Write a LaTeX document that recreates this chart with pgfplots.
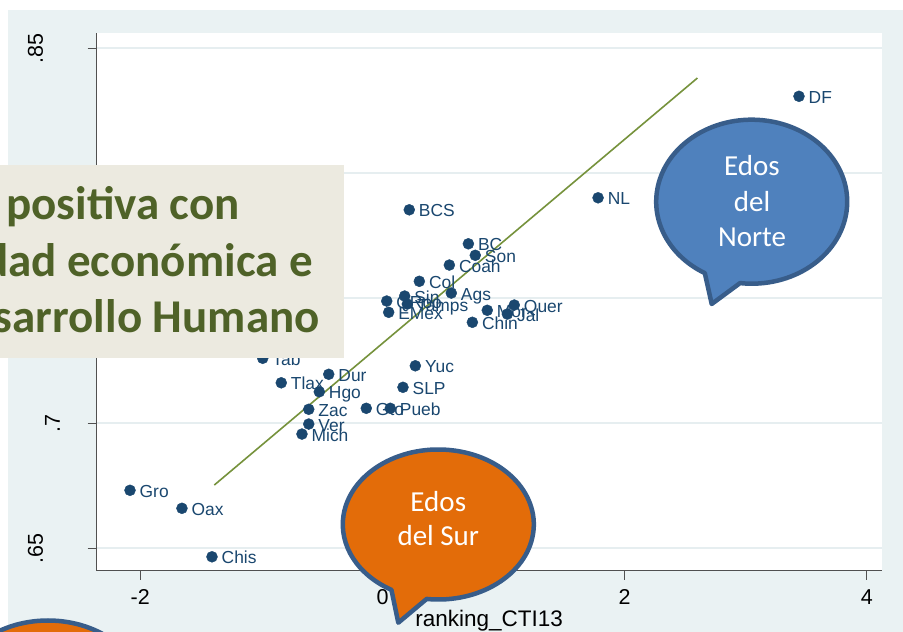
\documentclass[border=0pt]{standalone}
\usepackage{fontspec}
\setmainfont{Liberation Sans}
\newfontfamily\calibri{Carlito}
\usepackage{pgfplots}
\pgfplotsset{compat=1.18}
\definecolor{bgc}{RGB}{234,242,243}
\definecolor{gridc}{RGB}{230,238,240}
\definecolor{navyc}{RGB}{26,71,111}
\definecolor{fitc}{RGB}{118,146,60}
\definecolor{boxc}{RGB}{236,234,224}
\definecolor{boxtext}{RGB}{79,98,40}
\definecolor{bluef}{RGB}{79,129,189}
\definecolor{blueb}{RGB}{56,93,138}
\definecolor{orangef}{RGB}{227,108,9}
\definecolor{axc}{RGB}{80,80,80}
\begin{document}
\begin{tikzpicture}[x=1pt,y=1pt]
\useasboundingbox (0,0) rectangle (903,632);
\clip (0,0) rectangle (903,632);
\fill[white] (0,0) rectangle (903,632);
\fill[bgc] (8,0) rectangle (903,622);
\begin{axis}[
  at={(96.7pt,61.3pt)}, anchor=south west,
  scale only axis, width=785pt, height=537.4pt,
  xmin=-2.360, xmax=4.122, ymin=0.64104, ymax=0.856,
  axis background/.style={fill=white},
  axis lines*=left,
  axis line style={color=axc, line width=0.9pt},
  tick align=outside,
  major tick length=9pt,
  tick style={color=axc, line width=0.9pt},
  xtick={-2,0,2,4}, xticklabels={-2,0,2,4},
  ytick={0.65,0.7,0.75,0.8,0.85},
  yticklabels={.65,{\raisebox{-17pt}{.7}},.75,{\raisebox{-17pt}{.8}},.85},
  xticklabel style={font=\fontsize{21.5pt}{24pt}\selectfont, anchor=base, yshift=-25.3pt, inner sep=0pt},
  yticklabel style={font=\fontsize{21.5pt}{24pt}\selectfont, rotate=90, anchor=base, yshift=44.7pt, inner sep=0pt},
  ymajorgrids,
  major grid style={color=gridc, line width=1.6pt},
  xlabel={ranking\_CTI13},
  xlabel style={font=\fontsize{22.5pt}{25pt}\selectfont, anchor=base, at={(axis description cs:0.5,0)}, yshift=-56pt, inner sep=0pt},
  clip=false,
]
\addplot[only marks, mark=*, mark size=5.5pt, color=navyc,
  point meta=explicit symbolic,
  nodes near coords,
  nodes near coords style={anchor=base west, xshift=9.5pt, yshift=-7.2pt, inner sep=0pt, font=\fontsize{17.4pt}{20pt}\selectfont, text=navyc}]
table[x=x, y=y, meta=label] {
x y label
-2.234 0.7302 Camp
3.439 0.8308 DF
1.780 0.7902 NL
0.221 0.7854 BCS
0.709 0.7718 BC
0.766 0.7672 Son
0.552 0.7633 Coah
0.304 0.7568 Col
0.568 0.7521 Ags
0.035 0.7489 QRoo
0.183 0.7509 Sin
0.205 0.7477 Tamps
0.051 0.7444 EMex
0.865 0.7452 Mor
1.088 0.7473 Quer
1.031 0.7437 Jal
0.742 0.7404 Chin
-0.989 0.7260 Tab
-0.444 0.7196 Dur
0.271 0.7230 Yuc
-0.836 0.7162 Tlax
-0.522 0.7126 Hgo
0.169 0.7144 SLP
-0.609 0.7056 Zac
-0.134 0.7060 Gto
0.064 0.7060 Pueb
-0.609 0.6997 Ver
-0.665 0.6957 Mich
-2.085 0.6732 Gro
-1.656 0.6660 Oax
-1.408 0.6466 Chis
};
\addplot[color=fitc, line width=1.6pt] coordinates {(-1.389,0.6753) (2.600,0.8381)};
\end{axis}
% text box
\fill[boxc] (-10,273.7) rectangle (343.5,467);
\begin{scope}[every node/.style={anchor=base east, inner sep=0pt, text=boxtext, font=\calibri\bfseries\fontsize{47pt}{57pt}\selectfont}]
\node at (240,412) {Correlación positiva con};
\node at (313,355.3) {actividad económica e};
\node at (320,299) {Desarrollo Humano};
\end{scope}
% blue callout
\filldraw[fill=bluef, draw=blueb, line width=4.5pt, line join=round]
  (751.7,430.3) ++(263:95.5pt and 82pt)
  arc[start angle=263, end angle=600.6, x radius=95.5pt, y radius=82pt]
  -- (711.7,328) -- cycle;
\begin{scope}[every node/.style={anchor=base, inner sep=0pt, text=white, font=\calibri\fontsize{29pt}{35pt}\selectfont}]
\node at (752,456.3) {Edos};
\node at (752,420.3) {del};
\node at (752,385.3) {Norte};
\end{scope}
% orange callout
\filldraw[fill=orangef, draw=blueb, line width=4.5pt, line join=round]
  (438.3,107.5) ++(263:95.5pt and 75pt)
  arc[start angle=263, end angle=600.6, x radius=95.5pt, y radius=75pt]
  -- (398.3,9.3) -- cycle;
\begin{scope}[every node/.style={anchor=base, inner sep=0pt, text=white, font=\calibri\fontsize{29pt}{35pt}\selectfont}]
\node at (438.3,120.3) {Edos};
\node at (438.3,86) {del Sur};
\end{scope}
% bottom-left callout (partly visible)
\filldraw[fill=orangef, draw=blueb, line width=4.5pt] (48,-63.5) ellipse [x radius=95.5pt, y radius=75pt];
\end{tikzpicture}
\end{document}
